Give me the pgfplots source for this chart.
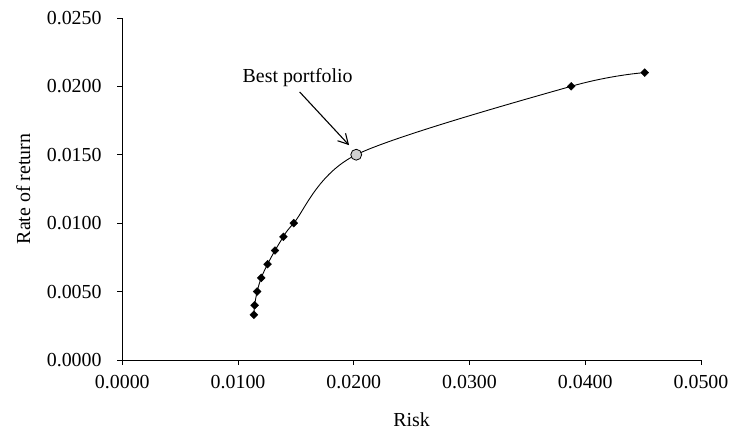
\documentclass[border=0pt]{standalone}
\usepackage{pgfplots}
\pgfplotsset{compat=1.18}
\usetikzlibrary{arrows.meta}
\usepackage{fontspec}
\setmainfont{Liberation Serif}
\pgfplotstableread{
x y
0.01137 0.0033
0.01143 0.0040
0.01165 0.0050
0.01200 0.0060
0.01255 0.0070
0.01319 0.0080
0.01392 0.0090
0.01481 0.0100
0.02021 0.0150
0.03878 0.0200
0.04513 0.0210
}\frontier
\pgfplotstableread{
x y
0.01137 0.0033
0.01143 0.0040
0.01165 0.0050
0.01200 0.0060
0.01255 0.0070
0.01319 0.0080
0.01392 0.0090
0.01481 0.0100
0.03878 0.0200
0.04513 0.0210
}\marks
\pgfplotstableread{
x y
0.02021 0.0150
}\best
\begin{document}
\fontsize{20}{24}\selectfont
\begin{tikzpicture}
\begin{axis}[
  scale only axis, width=582pt, height=344pt,
  xmin=0, xmax=0.05, ymin=0, ymax=0.025,
  axis lines*=left,
  axis line style={black, line width=0.7pt},
  xtick={0,0.01,0.02,0.03,0.04,0.05},
  ytick={0,0.005,0.01,0.015,0.02,0.025},
  tick align=outside, major tick length=5pt,
  tick style={black, line width=0.7pt},
  scaled ticks=false,
  /pgf/number format/assume math mode=true,
  /pgf/number format/.cd, fixed, fixed zerofill, precision=4, /pgfplots/.cd,
  tick label style={font=\fontsize{20}{24}\selectfont},
  yticklabel style={xshift=-9pt},
  xticklabel style={yshift=-4pt},
  xlabel={Risk}, ylabel={Rate of return},
  label style={font=\fontsize{20}{24}\selectfont},
  xlabel style={yshift=-10pt},
  ylabel style={yshift=3pt},
  clip=false,
]
\addplot[black, line width=0.9pt, smooth, no marks] table[x=x, y=y] {\frontier};
\addplot[only marks, mark=square*, mark size=2.8pt, mark options={rotate=45, fill=black, draw=black}] table[x=x, y=y] {\marks};
\addplot[only marks, mark=*, mark size=5.5pt, mark options={fill=black!18, draw=black, line width=0.8pt}] table[x=x, y=y] {\best};
\node[anchor=base, font=\fontsize{20}{24}\selectfont] at (axis cs:0.01515,0.0203) {Best portfolio};
\draw[-{Straight Barb[length=10pt,width=11pt]}, line width=1.1pt] (axis cs:0.01532,0.01959) -- (axis cs:0.01959,0.0157);
\path (rel axis cs:0,1) ++(-123pt,18pt);
\end{axis}
\end{tikzpicture}
\end{document}
